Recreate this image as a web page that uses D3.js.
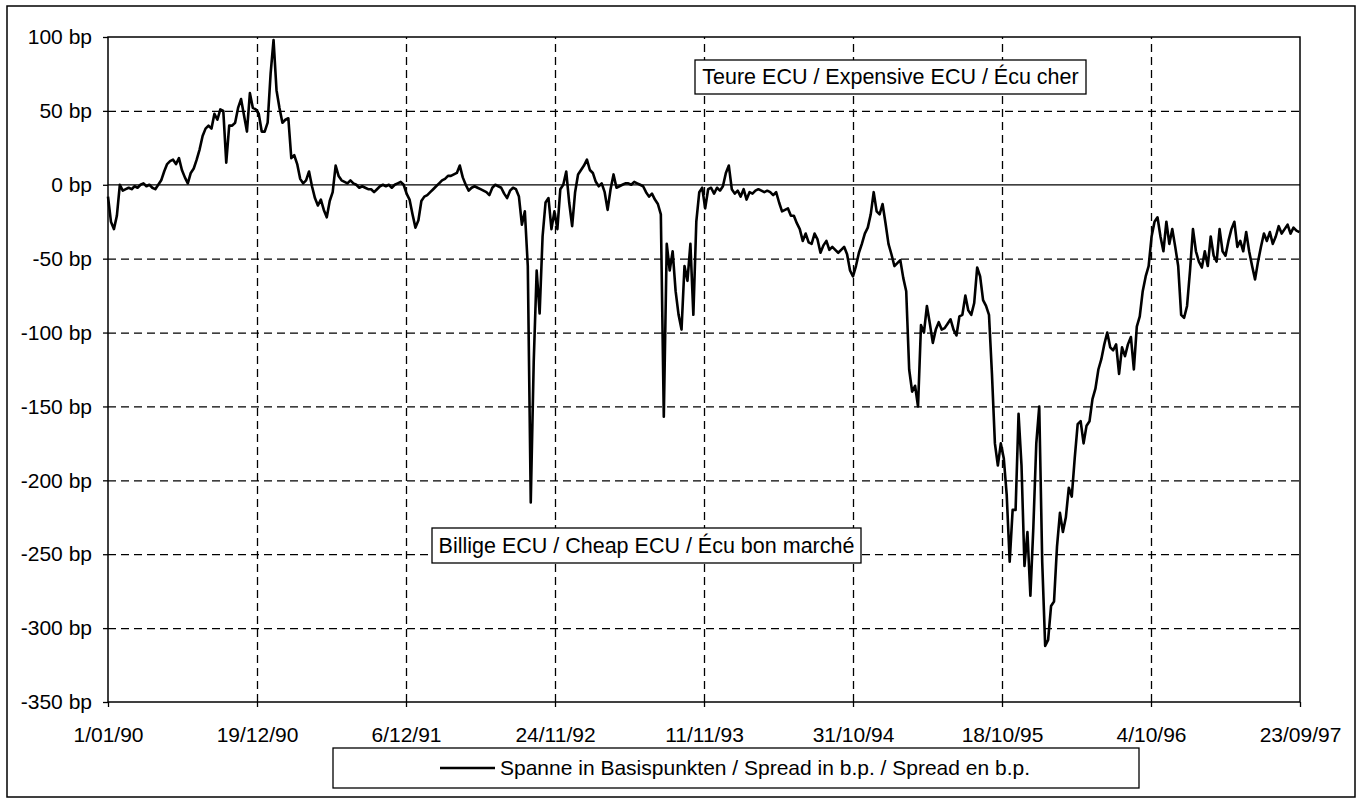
<!DOCTYPE html>
<html><head><meta charset="utf-8">
<script src="https://cdn.jsdelivr.net/npm/d3@7"></script>
<style>
body{margin:0;background:#fff}
svg{display:block}
text{font-family:"Liberation Sans",Arial,Helvetica,sans-serif;fill:#000}
</style>
</head><body>
<svg id="chart" width="1362" height="799"></svg>
<script>
// ---- data ----
const startDate = "1990-01-01";
const endDate = "1997-09-23";
const xTickDates = ["1990-01-01","1990-12-19","1991-12-06","1992-11-24","1993-11-11","1994-10-31","1995-10-18","1996-10-04","1997-09-23"];
const xTickLabels = ["1/01/90","19/12/90","6/12/91","24/11/92","11/11/93","31/10/94","18/10/95","4/10/96","23/09/97"];
const yTicks = [100,50,0,-50,-100,-150,-200,-250,-300,-350];
const seriesName = "Spanne in Basispunkten / Spread in b.p. / Spread en b.p.";
const noteExpensive = "Teure ECU / Expensive ECU / \u00C9cu cher";
const noteCheap = "Billige ECU / Cheap ECU / \u00C9cu bon march\u00E9";
// weekly spread in basis points (Mondays from 1 Jan 1990)
const spreadBp = [
 -8,-25,-30,-21,0,-4,-3,-2,-3,-1, -2,0,1,-1,0,-2,-3,0,3,9,
 14,16,17,14,18,10,5,1,8,11, 17,24,33,38,40,38,48,44,51,50,
 15,40,40,42,52,58,47,36,62,52, 51,48,36,36,42,75,98,64,52,42,
 44,45,18,20,14,4,1,3,9,-1, -9,-14,-10,-17,-22,-11,-5,13,6,3,
 2,1,3,1,0,-2,-1,-2,-3,-3, -5,-3,-1,0,-1,0,-2,0,1,2,
 0,-6,-10,-20,-29,-24,-11,-8,-7,-5, -3,-1,1,3,4,6,6,7,8,13,
 5,0,-4,-2,-1,-2,-3,-4,-5,-7, -2,0,-1,-2,-6,-9,-4,-2,-3,-8,
 -27,-18,-55,-215,-120,-58,-87,-35,-12,-9, -30,-18,-30,-3,0,9,-12,-28,-5,7,
 10,13,17,10,8,2,-1,1,-5,-17, -3,7,-2,-1,0,1,1,0,2,1,
 0,-1,-5,-8,-6,-10,-13,-20,-157,-40, -58,-45,-72,-88,-98,-55,-65,-40,-88,-25,
 -5,-2,-16,-3,-2,-6,-2,-4,-1,8, 13,-3,-6,-4,-8,-3,-10,-5,-6,-4,
 -3,-4,-5,-4,-5,-7,-5,-12,-18,-17, -16,-21,-21,-26,-30,-38,-33,-39,-40,-33,
 -37,-46,-41,-38,-44,-42,-44,-46,-44,-42, -47,-58,-62,-55,-46,-40,-33,-29,-20,-5,
 -18,-20,-13,-26,-40,-47,-55,-53,-51,-63, -72,-125,-140,-136,-150,-95,-100,-82,-94,-107,
 -98,-93,-98,-97,-94,-91,-98,-102,-89,-88, -75,-85,-88,-80,-56,-62,-78,-82,-88,-128,
 -175,-190,-175,-185,-210,-255,-220,-220,-155,-190, -258,-235,-278,-232,-175,-150,-255,-312,-308,-285,
 -282,-245,-222,-235,-225,-205,-211,-185,-162,-160, -175,-163,-160,-145,-138,-125,-118,-108,-100,-110,
 -112,-108,-128,-110,-116,-108,-103,-125,-96,-89, -72,-62,-55,-35,-25,-22,-35,-45,-25,-40,
 -30,-42,-55,-88,-90,-82,-58,-30,-45,-52, -56,-45,-55,-35,-48,-52,-30,-45,-48,-38,
 -30,-25,-42,-38,-45,-32,-45,-55,-64,-52, -42,-33,-38,-32,-40,-35,-28,-33,-30,-27,
 -33,-29,-31,-32
];

// ---- layout ----
const M = {left:108, right:1300, top:37, bottom:702};
const parse = d3.timeParse("%Y-%m-%d");
const svg = d3.select("#chart");
const FONT = 21;
const t0 = parse(startDate);

// business-day (weekday) index axis, as in the original category axis
function bdIndex(d) {
  const days = d3.timeDay.count(t0, d);
  return Math.floor(days / 7) * 5 + Math.min(days % 7, 5);
}
const xb = d3.scaleLinear().domain([0, bdIndex(parse(endDate))]).range([M.left, M.right]);
const x = d => xb(bdIndex(d));
const y = d3.scaleLinear().domain([-350, 100]).range([M.bottom, M.top]);

const dates = d3.timeMonday.range(t0, d3.timeDay.offset(parse(endDate), 1));
const data = spreadBp.map((v, i) => ({date: dates[i], value: v})).filter(d => d.date);
const tickIdx = xTickDates.map(s => bdIndex(parse(s)));

// outer frame
svg.append("rect").attr("x", 7).attr("y", 6).attr("width", 1348).attr("height", 791)
  .attr("fill", "#fff").attr("stroke", "#000").attr("stroke-width", 1.5);

// horizontal dashed gridlines
const gY = svg.append("g").attr("transform", `translate(${M.left},0)`)
  .call(d3.axisLeft(y).tickValues(yTicks.filter(v => v !== 100 && v !== 0 && v !== -350))
    .tickSize(-(M.right - M.left)).tickFormat(""));
gY.select(".domain").remove();
gY.selectAll("line").attr("stroke", "#000").attr("stroke-width", 1.3).attr("stroke-dasharray", "8,5");

// vertical dashed gridlines
const gX = svg.append("g").attr("transform", `translate(0,${M.bottom})`)
  .call(d3.axisBottom(xb).tickValues(tickIdx.slice(1, -1))
    .tickSize(-(M.bottom - M.top)).tickFormat(""));
gX.select(".domain").remove();
gX.selectAll("line").attr("stroke", "#000").attr("stroke-width", 1.3).attr("stroke-dasharray", "8,5");

// zero line
svg.append("line").attr("x1", M.left).attr("x2", M.right).attr("y1", y(0)).attr("y2", y(0))
  .attr("stroke", "#000").attr("stroke-width", 1.3);

// plot border
svg.append("rect").attr("x", M.left).attr("y", M.top)
  .attr("width", M.right - M.left).attr("height", M.bottom - M.top)
  .attr("fill", "none").attr("stroke", "#000").attr("stroke-width", 1.5);

// y axis
const yAxis = svg.append("g").attr("transform", `translate(${M.left},0)`)
  .call(d3.axisLeft(y).tickValues(yTicks).tickSize(5).tickPadding(11).tickFormat(d => d + " bp"));
yAxis.select(".domain").remove();
yAxis.selectAll("line").attr("stroke", "#000").attr("stroke-width", 1.3);
yAxis.selectAll("text").attr("font-size", FONT).attr("font-family", "Liberation Sans, Arial, sans-serif").attr("fill", "#000");

// x axis
const xAxis = svg.append("g").attr("transform", `translate(0,${M.bottom})`)
  .call(d3.axisBottom(xb).tickValues(tickIdx).tickSize(5).tickPadding(20)
    .tickFormat((d, i) => xTickLabels[i]));
xAxis.select(".domain").remove();
xAxis.selectAll("line").attr("stroke", "#000").attr("stroke-width", 1.3);
xAxis.selectAll("text").attr("font-size", FONT).attr("font-family", "Liberation Sans, Arial, sans-serif").attr("fill", "#000");

// series line
const line = d3.line().x(d => x(d.date)).y(d => y(d.value));
svg.append("path").datum(data).attr("d", line)
  .attr("fill", "none").attr("stroke", "#000").attr("stroke-width", 2.6)
  .attr("stroke-linejoin", "round");

// annotation boxes
function noteBox(x0, y0, x1, y1, txt, baseline) {
  svg.append("rect").attr("x", x0).attr("y", y0).attr("width", x1 - x0).attr("height", y1 - y0)
    .attr("fill", "#fff").attr("stroke", "#000").attr("stroke-width", 1.3);
  svg.append("text").attr("x", (x0 + x1) / 2).attr("y", baseline).attr("text-anchor", "middle")
    .attr("font-size", 21.5).text(txt);
}
noteBox(695, 60, 1086, 94, noteExpensive, 84);
noteBox(432, 528, 861, 563, noteCheap, 553);

// legend
svg.append("rect").attr("x", 333).attr("y", 748).attr("width", 806).attr("height", 40)
  .attr("fill", "#fff").attr("stroke", "#000").attr("stroke-width", 1.3);
svg.append("line").attr("x1", 440).attr("x2", 495).attr("y1", 768).attr("y2", 768)
  .attr("stroke", "#000").attr("stroke-width", 2.6);
svg.append("text").attr("x", 500).attr("y", 775).attr("font-size", FONT).text(seriesName);
</script>
</body></html>
